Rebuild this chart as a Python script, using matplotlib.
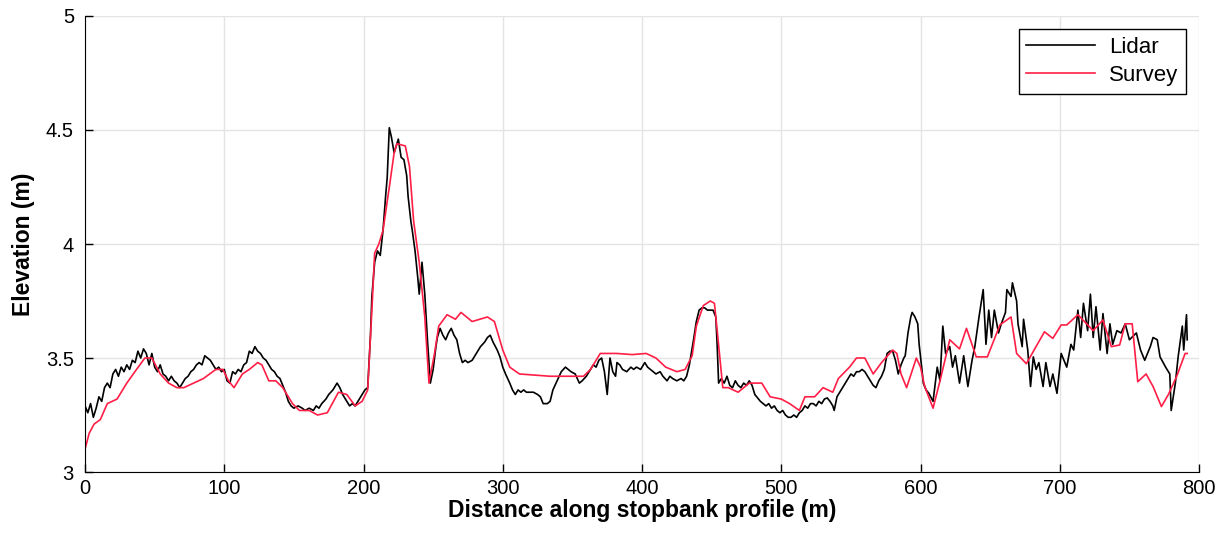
import matplotlib.pyplot as plt

# Lidar profile (distance m, elevation m)
lidar_x = [0, 2, 4, 6, 8, 10, 12, 14, 16, 18, 20, 22, 24, 26, 28, 30, 32, 34, 36, 38,
           40, 42, 44, 46, 48, 50, 52, 54, 56, 58, 60, 62, 64, 66, 68, 70, 72, 74, 76, 78,
           80, 82, 84, 86, 88, 90, 92, 94, 96, 98, 100, 102, 104, 106, 108, 110, 112, 114, 116, 118,
           120, 122, 124, 126, 128, 130, 132, 134, 136, 138, 140, 142, 144, 146, 148, 150, 153, 156, 158, 161,
           164, 166, 168, 170, 173, 175, 178, 181, 183, 185, 188, 190, 192, 194, 197, 199, 201, 203, 205, 206,
           208, 210, 212, 214, 216, 217, 218.5, 220, 222, 224, 225, 227, 229, 231, 232, 234, 235, 237, 239, 240,
           242, 244, 246, 248, 250, 252, 253, 255, 257, 259, 261, 263, 265, 267, 269, 271, 273, 275, 278, 281,
           284, 287, 289, 291, 293, 296, 298, 300, 302, 305, 307, 309, 311, 313, 315, 317, 320, 322, 325, 327,
           329, 332, 334, 336, 339, 342, 345, 347, 349, 352, 355, 357, 360, 362, 365, 367, 369, 371, 373, 375,
           377, 379, 381, 382, 384, 386, 389, 392, 394, 396, 399, 402, 404, 406, 408, 410, 413, 415, 418, 420,
           422, 425, 428, 430, 432, 434, 437, 439, 441, 443, 445, 447, 449, 451, 453, 454, 455, 457, 459, 461,
           463, 465, 467, 469, 471, 473, 475, 477, 479, 481, 483, 485, 487, 489, 491, 493, 495, 497, 499, 501,
           503, 505, 507, 509, 511, 513, 515, 517, 519, 521, 523, 525, 527, 529, 531, 533, 535, 537, 538, 540,
           542, 544, 546, 548, 550, 552, 554, 556, 558, 560, 562, 564, 566, 568, 570, 572, 574, 576, 578, 580,
           582, 584, 586, 588, 589, 591, 593, 594, 596, 598, 599, 601, 602, 604, 606, 609, 612, 614, 616, 618,
           621, 623, 625, 628, 631, 634, 637, 639, 642, 645, 647, 649, 651, 653, 656, 658, 661, 662, 665, 666,
           669, 670, 673, 674, 677, 679, 681, 683, 685, 688, 690, 693, 695, 698, 701, 705, 708, 710, 713, 715,
           717, 720, 722, 724, 726, 729, 731, 734, 736, 738, 741, 744, 747, 750, 755, 758, 761, 765, 767, 770,
           772, 776, 779, 780, 783, 785, 788, 789, 791, 791.5]
lidar_z = [3.29, 3.26, 3.30, 3.24, 3.28, 3.33, 3.31, 3.37, 3.39, 3.37, 3.43, 3.45, 3.42, 3.46, 3.44, 3.47, 3.45, 3.49, 3.48, 3.53,
           3.50, 3.54, 3.52, 3.47, 3.52, 3.46, 3.44, 3.47, 3.43, 3.42, 3.40, 3.42, 3.40, 3.39, 3.37, 3.39, 3.41, 3.42, 3.44, 3.45,
           3.47, 3.48, 3.47, 3.51, 3.50, 3.49, 3.47, 3.45, 3.46, 3.44, 3.45, 3.40, 3.39, 3.44, 3.43, 3.45, 3.44, 3.47, 3.48, 3.53,
           3.52, 3.55, 3.53, 3.52, 3.50, 3.49, 3.47, 3.45, 3.44, 3.42, 3.41, 3.38, 3.35, 3.31, 3.29, 3.28, 3.29, 3.28, 3.27, 3.28,
           3.27, 3.29, 3.28, 3.30, 3.32, 3.34, 3.36, 3.39, 3.37, 3.34, 3.31, 3.29, 3.30, 3.29, 3.32, 3.34, 3.36, 3.37, 3.60, 3.77,
           3.92, 3.97, 3.95, 4.06, 4.22, 4.29, 4.51, 4.47, 4.40, 4.44, 4.46, 4.38, 4.37, 4.30, 4.21, 4.10, 4.06, 3.97, 3.85, 3.78,
           3.92, 3.78, 3.57, 3.39, 3.45, 3.55, 3.59, 3.63, 3.60, 3.58, 3.61, 3.63, 3.60, 3.58, 3.52, 3.48, 3.49, 3.48, 3.49, 3.52,
           3.55, 3.57, 3.59, 3.60, 3.57, 3.535, 3.505, 3.46, 3.43, 3.39, 3.36, 3.34, 3.36, 3.35, 3.36, 3.35, 3.35, 3.35, 3.34, 3.33,
           3.30, 3.30, 3.31, 3.36, 3.40, 3.44, 3.46, 3.45, 3.44, 3.43, 3.39, 3.40, 3.42, 3.44, 3.47, 3.46, 3.49, 3.50, 3.44, 3.34,
           3.50, 3.44, 3.42, 3.48, 3.47, 3.45, 3.44, 3.46, 3.45, 3.46, 3.45, 3.48, 3.46, 3.45, 3.44, 3.43, 3.44, 3.42, 3.40, 3.42,
           3.41, 3.40, 3.41, 3.40, 3.42, 3.47, 3.58, 3.66, 3.71, 3.72, 3.72, 3.71, 3.71, 3.71, 3.68, 3.55, 3.39, 3.41, 3.39, 3.42,
           3.38, 3.37, 3.40, 3.38, 3.37, 3.39, 3.38, 3.40, 3.38, 3.34, 3.325, 3.31, 3.30, 3.29, 3.30, 3.28, 3.29, 3.27, 3.26, 3.27,
           3.25, 3.24, 3.24, 3.25, 3.24, 3.26, 3.27, 3.29, 3.28, 3.30, 3.30, 3.29, 3.31, 3.30, 3.32, 3.325, 3.31, 3.29, 3.27, 3.33,
           3.35, 3.37, 3.39, 3.41, 3.43, 3.42, 3.44, 3.44, 3.45, 3.44, 3.42, 3.40, 3.38, 3.37, 3.40, 3.42, 3.45, 3.52, 3.53, 3.53,
           3.49, 3.43, 3.47, 3.50, 3.51, 3.61, 3.68, 3.70, 3.68, 3.65, 3.56, 3.45, 3.39, 3.36, 3.345, 3.31, 3.46, 3.40, 3.64, 3.52,
           3.55, 3.46, 3.51, 3.39, 3.51, 3.375, 3.49, 3.55, 3.68, 3.80, 3.56, 3.71, 3.59, 3.71, 3.61, 3.65, 3.70, 3.80, 3.77, 3.83,
           3.75, 3.65, 3.55, 3.67, 3.535, 3.375, 3.505, 3.45, 3.48, 3.375, 3.48, 3.375, 3.43, 3.345, 3.52, 3.46, 3.56, 3.535, 3.71, 3.59,
           3.74, 3.62, 3.78, 3.59, 3.725, 3.535, 3.695, 3.52, 3.65, 3.56, 3.62, 3.61, 3.65, 3.58, 3.61, 3.535, 3.49, 3.55, 3.59, 3.58,
           3.505, 3.46, 3.43, 3.27, 3.39, 3.505, 3.64, 3.535, 3.69, 3.58]

# Survey profile (distance m, elevation m)
survey_x = [0, 3, 6.5, 11, 16, 23, 30, 37, 43, 48, 54, 60, 66, 71, 78, 85, 94, 99, 103, 107,
            113, 118, 124, 127, 132, 137, 142, 149, 154, 161, 167, 174, 182, 188, 194, 199, 203, 206, 208, 211,
            214, 219, 222, 224, 230, 233, 236, 240, 244, 247, 251, 254, 260, 266, 270, 278, 289, 294, 300, 305,
            312, 334, 358, 363, 370, 382, 393, 403, 410, 417, 425, 431, 436, 439, 444, 449, 452, 454, 458, 462,
            469, 477, 486, 492, 500, 506, 513, 517, 524, 530, 537, 541, 549, 554, 560, 566, 572, 580, 583, 586,
            590, 597, 600, 603, 609, 614, 621, 628, 633, 640, 648, 657, 665, 669, 676, 682, 689, 695, 701, 705,
            713, 724, 731, 737, 743, 747, 752, 756, 762, 767, 773, 778, 784, 790, 791.5]
survey_z = [3.10, 3.17, 3.21, 3.23, 3.30, 3.32, 3.39, 3.45, 3.50, 3.50, 3.43, 3.39, 3.37, 3.37, 3.39, 3.41, 3.45, 3.45, 3.40, 3.37,
            3.43, 3.45, 3.48, 3.47, 3.40, 3.40, 3.37, 3.30, 3.27, 3.27, 3.25, 3.26, 3.35, 3.34, 3.29, 3.31, 3.36, 3.71, 3.96, 4.00,
            4.06, 4.27, 4.40, 4.44, 4.43, 4.34, 4.10, 3.92, 3.68, 3.39, 3.52, 3.64, 3.69, 3.67, 3.70, 3.66, 3.68, 3.66, 3.535, 3.46,
            3.43, 3.42, 3.42, 3.45, 3.52, 3.52, 3.515, 3.52, 3.50, 3.46, 3.44, 3.45, 3.51, 3.64, 3.73, 3.75, 3.74, 3.62, 3.37, 3.37,
            3.35, 3.39, 3.39, 3.33, 3.32, 3.30, 3.27, 3.33, 3.33, 3.37, 3.35, 3.41, 3.46, 3.50, 3.50, 3.43, 3.48, 3.535, 3.52, 3.43,
            3.37, 3.50, 3.46, 3.375, 3.28, 3.40, 3.58, 3.54, 3.63, 3.505, 3.505, 3.645, 3.68, 3.52, 3.475, 3.54, 3.615, 3.586, 3.645, 3.645,
            3.69, 3.62, 3.667, 3.55, 3.557, 3.65, 3.65, 3.396, 3.43, 3.375, 3.287, 3.34, 3.42, 3.52, 3.52]

plt.rcParams['font.family'] = ['Liberation Sans', 'DejaVu Sans']

fig = plt.figure(figsize=(12.25, 5.33), dpi=100)
ax = fig.add_axes([0.0694, 0.1144, 0.9094, 0.8556])

ax.plot(lidar_x, lidar_z, color='black', linewidth=1.2, label='Lidar')
ax.plot(survey_x, survey_z, color='#ff1e46', linewidth=1.2, label='Survey')

ax.set_xlim(0, 800)
ax.set_ylim(3, 5)
ax.set_xticks(range(0, 801, 100))
ax.set_yticks([3, 3.5, 4, 4.5, 5])
ax.set_yticklabels(['3', '3.5', '4', '4.5', '5'])
ax.tick_params(direction='in', length=6, width=1, labelsize=14.5)
ax.tick_params(axis='x', pad=5)
ax.tick_params(axis='y', pad=8)

ax.grid(True, color='#e4e4e4', linewidth=1)
ax.set_axisbelow(True)
ax.spines['top'].set_visible(False)
ax.spines['right'].set_visible(False)

ax.set_xlabel('Distance along stopbank profile (m)', fontsize=16.5, fontweight='bold', labelpad=1)
ax.set_ylabel('Elevation (m)', fontsize=16.5, fontweight='bold', labelpad=8)

leg = ax.legend(loc='upper right', fontsize=16, fancybox=False, framealpha=1,
                edgecolor='black', handlelength=3.1, borderaxespad=0.6,
                borderpad=0.35, labelspacing=0.3, handletextpad=0.6)
leg.get_frame().set_linewidth(1)

plt.savefig('out.png', dpi=100)
